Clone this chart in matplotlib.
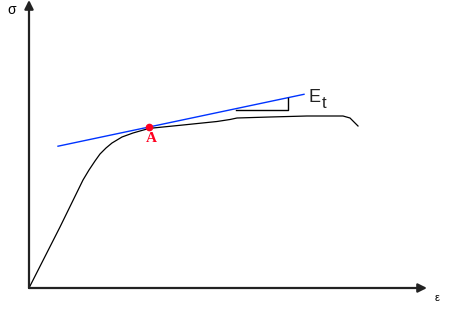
"""Stress-strain sketch with tangent modulus E_t at point A."""

import matplotlib
matplotlib.use("Agg")
import matplotlib.pyplot as plt

# curve (strain, stress in arbitrary units)
strain = [0, 31, 54, 60, 66, 71, 77, 83, 93, 104, 118, 124, 154, 188, 201, 208, 241, 278, 314, 321, 329]
stress = [0, 61, 108, 118, 127, 134, 140, 145, 151, 155, 159, 160, 163, 166.5, 168.5, 170, 171, 172, 172, 170, 162]

point_a = (120, 161)
tangent_x = [29, 275]
tangent_slope = 0.211
tri_x = [207, 259]
tri_y = 178

fig = plt.figure(figsize=(4.49, 3.09), dpi=100)
ax = fig.add_axes([0, 0, 1, 1])
ax.set_xlim(-29, 420)
ax.set_ylim(-21, 288)
ax.axis("off")

# axes with arrowheads
arrow = dict(arrowstyle="-|>", mutation_scale=13, lw=1.6, color="#222222",
             shrinkA=0, shrinkB=0)
ax.annotate("", xy=(0, 288), xytext=(0, 0), arrowprops=arrow)
ax.annotate("", xy=(398, 0), xytext=(0, 0), arrowprops=arrow)
ax.text(-17, 278, "σ", fontsize=10, family="Liberation Sans", ha="center", va="center")
ax.text(408, -10, "ε", fontsize=8, family="Liberation Sans", ha="center", va="center")

ax.plot(strain, stress, color="black", lw=0.9)

ty = [point_a[1] + tangent_slope * (x - point_a[0]) for x in tangent_x]
ax.plot(tangent_x, ty, color="#0033ff", lw=1.0)

tri_top = point_a[1] + tangent_slope * (tri_x[1] - point_a[0])
ax.plot([tri_x[0], tri_x[1], tri_x[1]], [tri_y, tri_y, tri_top], color="black", lw=1.0)

ax.plot(*point_a, "o", color="#ff0020", ms=4.5)
ax.text(point_a[0] + 2, point_a[1] - 12, "A", color="#ff0020", fontsize=11,
        family="Liberation Serif", weight="bold", ha="center", va="center")

ax.text(279, 191, "E", fontsize=13, family="Liberation Sans", ha="left", va="center", color="#222222")
ax.text(293, 184, "t", fontsize=12, family="Liberation Sans", ha="left", va="center", color="#222222")

fig.savefig("out.png", dpi=100)
